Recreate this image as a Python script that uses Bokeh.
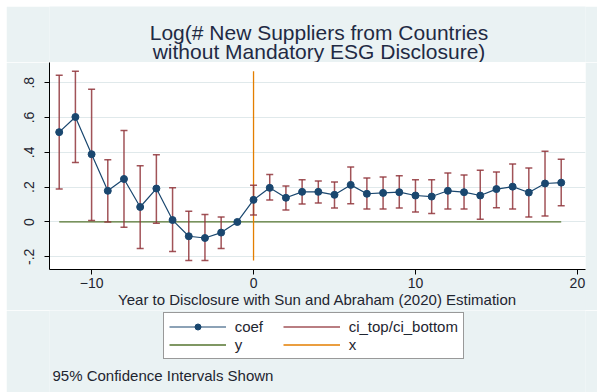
import math
from bokeh.plotting import figure
from bokeh.models import Range1d, FixedTicker, Legend, LegendItem, Label, Spacer
from bokeh.layouts import column, row
from bokeh.embed import file_html
from bokeh.resources import INLINE

NAN = float("nan")

years = list(range(-12, 20))
coef = [0.516, 0.603, 0.389, 0.179, 0.247, 0.086, 0.192, 0.011, -0.082, -0.092, -0.061, 0.0,
        0.127, 0.196, 0.139, 0.173, 0.173, 0.156, 0.213, 0.162, 0.167, 0.171, 0.152, 0.146,
        0.179, 0.171, 0.152, 0.189, 0.203, 0.169, 0.221, 0.226]
ci_top = [0.843, 0.866, 0.763, 0.358, 0.526, 0.323, 0.386, 0.196, 0.061, 0.043, 0.029, NAN,
          0.211, 0.272, 0.206, 0.242, 0.236, 0.229, 0.316, 0.253, 0.259, 0.265, 0.242, 0.242,
          0.282, 0.270, 0.297, 0.287, 0.333, 0.310, 0.406, 0.360]
ci_bottom = [0.190, 0.341, 0.009, 0.000, -0.031, -0.153, -0.008, -0.170, -0.221, -0.221, -0.153, NAN,
             0.040, 0.126, 0.069, 0.103, 0.109, 0.080, 0.105, 0.074, 0.074, 0.080, 0.057, 0.049,
             0.074, 0.074, 0.015, 0.082, 0.074, 0.029, 0.034, 0.093]

x_ticks = [-10, 0, 10, 20]
y_ticks = [-0.2, 0.0, 0.2, 0.4, 0.6, 0.8]
y_tick_labels = ["-.2", "0", ".2", ".4", ".6", ".8"]

title_lines = ["Log(# New Suppliers from Countries", "without Mandatory ESG Disclosure)"]
x_label = "Year to Disclosure with Sun and Abraham (2020) Estimation"
legend_labels = ["coef", "ci_top/ci_bottom", "y", "x"]
note = "95% Confidence Intervals Shown"

FONT = "Liberation Sans"
BG = "#EAF2F3"
NAVY = "#1A476F"
MAROON = "#90353B"
GREEN = "#55752F"
ORANGE = "#E37E00"
TXT = "#1E2530"
TITLE_C = "#1F2A44"
W = 591


def blank_fig(h):
    f = figure(width=W, height=h, x_range=Range1d(0, 1), y_range=Range1d(0, 1),
               output_backend="svg", toolbar_location=None,
               x_axis_location=None, y_axis_location=None,
               min_border_left=43, min_border_right=12,
               min_border_top=0, min_border_bottom=0)
    f.background_fill_color = BG
    f.border_fill_color = BG
    f.outline_line_color = None
    f.grid.visible = False
    return f


# ---------- title strip (frame aligned with the main plot's frame) ----------
tf = blank_fig(56)
tf.add_layout(Label(x=269.5, y=30, x_units="screen", y_units="screen", text=title_lines[0],
                    text_align="center", text_baseline="alphabetic", text_font=FONT,
                    text_font_size="21px", text_color=TITLE_C))
tf.add_layout(Label(x=269.5, y=11.5, x_units="screen", y_units="screen", text=title_lines[1],
                    text_align="center", text_baseline="alphabetic", text_font=FONT,
                    text_font_size="21px", text_color=TITLE_C))

# ---------- main plot ----------
p = figure(width=W, height=248, x_range=Range1d(-12.6, 20.5), y_range=Range1d(-0.273, 0.916),
           output_backend="svg", toolbar_location=None,
           min_border_left=43, min_border_right=12, min_border_top=0, min_border_bottom=40)
p.border_fill_color = BG
p.background_fill_color = "white"
p.outline_line_color = None

for ax in (p.xaxis, p.yaxis):
    ax.axis_line_color = "black"
    ax.major_tick_line_color = "black"
    ax.major_tick_out = 5
    ax.major_tick_in = 0
    ax.minor_tick_line_color = None
    ax.major_label_text_font = FONT
    ax.major_label_text_font_size = "14px"
    ax.major_label_text_color = TXT
p.xaxis.ticker = FixedTicker(ticks=x_ticks)
p.yaxis.ticker = FixedTicker(ticks=y_ticks)
p.yaxis.major_label_overrides = {t: l for t, l in zip(y_ticks, y_tick_labels)}
p.yaxis.major_label_orientation = "vertical"
p.xaxis.major_label_standoff = 3
p.yaxis.major_label_standoff = 10
p.xaxis.axis_label = x_label
p.xaxis.axis_label_text_font = FONT
p.xaxis.axis_label_text_font_size = "15px"
p.xaxis.axis_label_text_font_style = "normal"
p.xaxis.axis_label_text_color = TXT
p.xaxis.axis_label_standoff = 0

p.xgrid.visible = False
p.ygrid.grid_line_color = "#E0E9EB"
p.ygrid.grid_line_width = 1

p.line([years[0], years[-1]], [0, 0], line_color=GREEN, line_width=1.3)
ci_lo = min(v for v in ci_bottom if not math.isnan(v))
ci_hi = max(v for v in ci_top if not math.isnan(v))
p.line([0, 0], [ci_lo, ci_hi], line_color=ORANGE, line_width=1.3)

p.segment(x0=years, y0=ci_bottom, x1=years, y1=ci_top, line_color=MAROON, line_width=1.5, line_alpha=0.85)
p.scatter(years, ci_top, marker="dash", size=7, line_color=MAROON, line_width=1.5, line_alpha=0.85)
p.scatter(years, ci_bottom, marker="dash", size=7, line_color=MAROON, line_width=1.5, line_alpha=0.85)

p.line(years, coef, line_color=NAVY, line_width=1.2)
p.scatter(years, coef, marker="circle", size=7, fill_color=NAVY, line_color=NAVY)

# ---------- legend strip (legend keys are NaN proxies, nothing is drawn in the strip) ----------
lf = blank_fig(82)
k_cl = lf.line([NAN], [NAN], line_color=NAVY, line_width=1.2)
k_cm = lf.scatter([NAN], [NAN], marker="circle", size=7, fill_color=NAVY, line_color=NAVY)
k_ci = lf.segment(x0=[NAN], y0=[NAN], x1=[NAN], y1=[NAN], line_color=MAROON, line_width=1.5, line_alpha=0.85)
k_y = lf.line([NAN], [NAN], line_color=GREEN, line_width=1.3)
k_x = lf.line([NAN], [NAN], line_color=ORANGE, line_width=1.3)

legend = Legend(items=[
    LegendItem(label=legend_labels[0], renderers=[k_cl, k_cm]),
    LegendItem(label=legend_labels[1], renderers=[k_ci]),
    LegendItem(label=legend_labels[2], renderers=[k_y]),
    LegendItem(label=legend_labels[3], renderers=[k_x]),
], location=(113.7, 33), orientation="horizontal", nrows=2)
legend.label_text_font = FONT
legend.label_text_font_size = "15px"
legend.label_text_color = TXT
legend.glyph_width = 57
legend.glyph_height = 15
legend.label_height = 15
legend.label_width = 47
legend.label_standoff = 9
legend.padding = 5
legend.spacing = 1
legend.margin = 0
legend.border_line_color = "#333333"
legend.border_line_width = 1.5
legend.background_fill_color = "white"
legend.background_fill_alpha = 1
lf.add_layout(legend)
lf.add_layout(Label(x=3, y=17, x_units="screen", y_units="screen", text=note,
                    text_align="left", text_baseline="alphabetic", text_font=FONT,
                    text_font_size="15px", text_color=TXT))

layout = column(Spacer(height=6), row(Spacer(width=6), column(tf, p, lf, spacing=0)), spacing=0)
open("out.html", "w").write(file_html(layout, INLINE))
